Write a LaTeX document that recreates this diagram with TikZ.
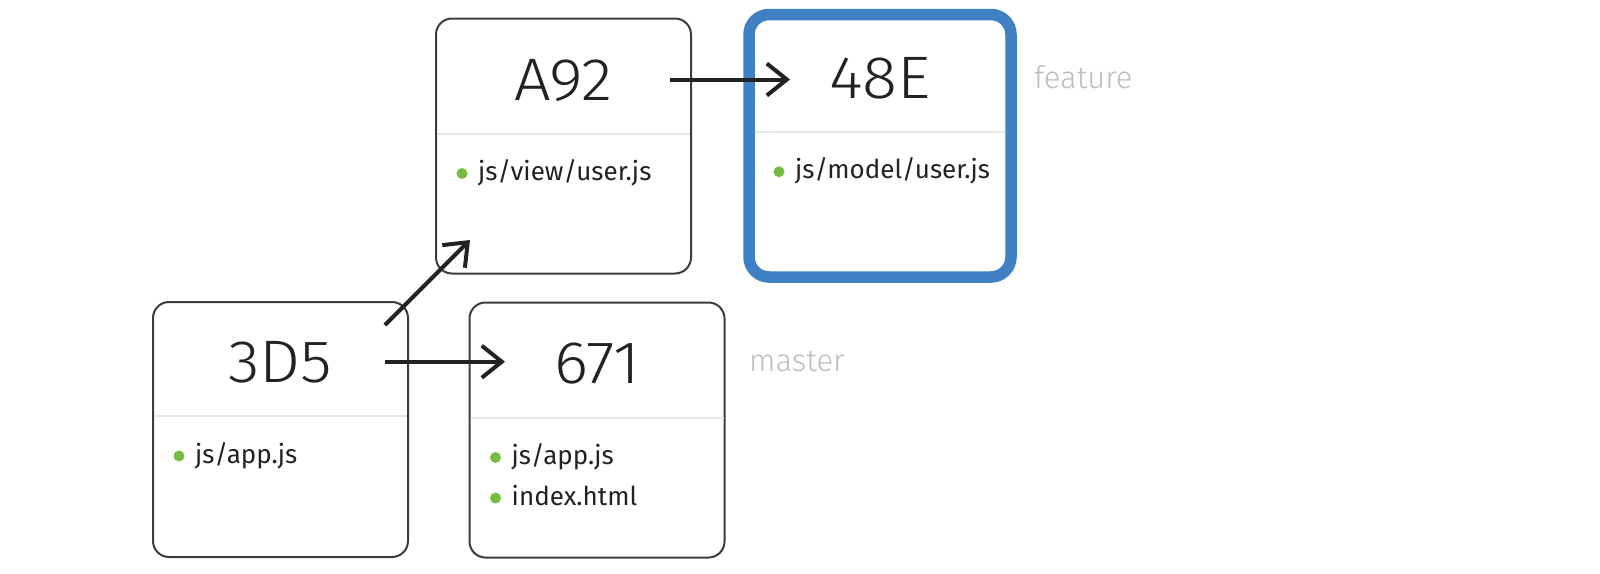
\documentclass[tikz,border=0pt]{standalone}
\usepackage{fontspec}
\setmainfont{Fira Sans}
\newfontfamily\titlefont{Fira Sans Light}[FakeStretch=1.08]
\newfontfamily\labelfont{Fira Sans Light}
\usetikzlibrary{arrows.meta}
\definecolor{ink}{HTML}{222222}
\definecolor{boxline}{HTML}{3C3C3C}
\definecolor{divline}{HTML}{E6E6E6}
\definecolor{bulletc}{HTML}{76BC43}
\definecolor{headblue}{HTML}{3F81C3}
\definecolor{labelgray}{HTML}{BDBDBD}
\tikzset{
  commit/.style={draw=boxline, line width=2pt, rounded corners=16pt, minimum width=255pt, minimum height=255pt, inner sep=0pt},
  headcommit/.style={draw=headblue, line width=11.5pt, rounded corners=20pt, minimum width=262pt, minimum height=262.5pt, inner sep=0pt},
  divider/.style={draw=divline, line width=2pt},
  title/.style={font=\titlefont\fontsize{60}{72}\selectfont, text=ink, inner sep=0pt, anchor=center},
  dot/.style={circle, fill=bulletc, minimum size=11pt, inner sep=0pt},
  item/.style={font=\fontsize{26}{31}\selectfont, text=ink, inner sep=0pt, anchor=base west},
  branchlabel/.style={font=\labelfont\fontsize{31}{36}\selectfont, text=labelgray, inner sep=0pt, anchor=base west},
  arr/.style={draw=ink, line width=4pt, -{Straight Barb[length=20pt,width=32pt]}}
}
\begin{document}
\begin{tikzpicture}[x=1pt, y=-1pt]
\useasboundingbox (0,0) rectangle (1600,573);

% boxes
\node[commit] (c3d5) at (280.5,429.5) {};
\node[commit] (ca92) at (563.5,146) {};
\node[commit] (c671) at (597,430) {};
\node[headcommit] (c48e) at (880,145.75) {};

% dividers
\draw[divider, shorten <=2pt, shorten >=2pt] ([yshift=-115pt]c3d5.north west) -- ([yshift=-115pt]c3d5.north east);
\draw[divider, shorten <=2pt, shorten >=2pt] ([yshift=-116pt]ca92.north west) -- ([yshift=-116pt]ca92.north east);
\draw[divider, shorten <=2pt, shorten >=2pt] ([yshift=-116pt]c671.north west) -- ([yshift=-116pt]c671.north east);
\draw[divider, shorten <=11.5pt, shorten >=11.5pt] ([yshift=-123.25pt]c48e.north west) -- ([yshift=-123.25pt]c48e.north east);

% titles
\node[title] (t3d5) at ([yshift=-61pt]c3d5.north) {3D5};
\node[title] (ta92) at ([yshift=-63pt]ca92.north) {A92};
\node[title] (t671) at ([yshift=-62pt]c671.north) {671};
\node[title] (t48e) at ([yshift=-69.25pt]c48e.north) {48E};

% file lists
\node[dot] (d3d5a) at ([xshift=27pt,yshift=-155pt]c3d5.north west) {};
\node[item] (i3d5a) at ([xshift=16pt,yshift=-7pt]d3d5a.center) {js/app.js};
\node[dot] (da92a) at ([xshift=27pt,yshift=-156pt]ca92.north west) {};
\node[item] (ia92a) at ([xshift=16pt,yshift=-7pt]da92a.center) {js/view/user.js};
\node[dot] (d671a) at ([xshift=27pt,yshift=-156pt]c671.north west) {};
\node[item] (i671a) at ([xshift=16pt,yshift=-7pt]d671a.center) {js/app.js};
\node[dot] (d671b) at ([xshift=27pt,yshift=-196.5pt]c671.north west) {};
\node[item] (i671b) at ([xshift=16pt,yshift=-7pt]d671b.center) {index.html};
\node[dot] (d48ea) at ([xshift=35.75pt,yshift=-163pt]c48e.north west) {};
\node[item] (i48ea) at ([xshift=16pt,yshift=-7pt]d48ea.center) {js/model/user.js};

% branch labels
\node[branchlabel] (lfeature) at (1034,88) {feature};
\node[branchlabel] (lmaster) at (749,371) {master};

% connectors
\coordinate (s1) at (670,79.5);
\coordinate (e1) at (790,79.5);
\coordinate (s2) at (385,361.7);
\coordinate (e2) at (505,361.7);
\coordinate (s3) at (385,325);
\coordinate (e3) at (470,240);
\draw[arr] (s1) -- (e1);
\draw[arr] (s2) -- (e2);
\draw[arr] (s3) -- (e3);
\end{tikzpicture}
\end{document}
